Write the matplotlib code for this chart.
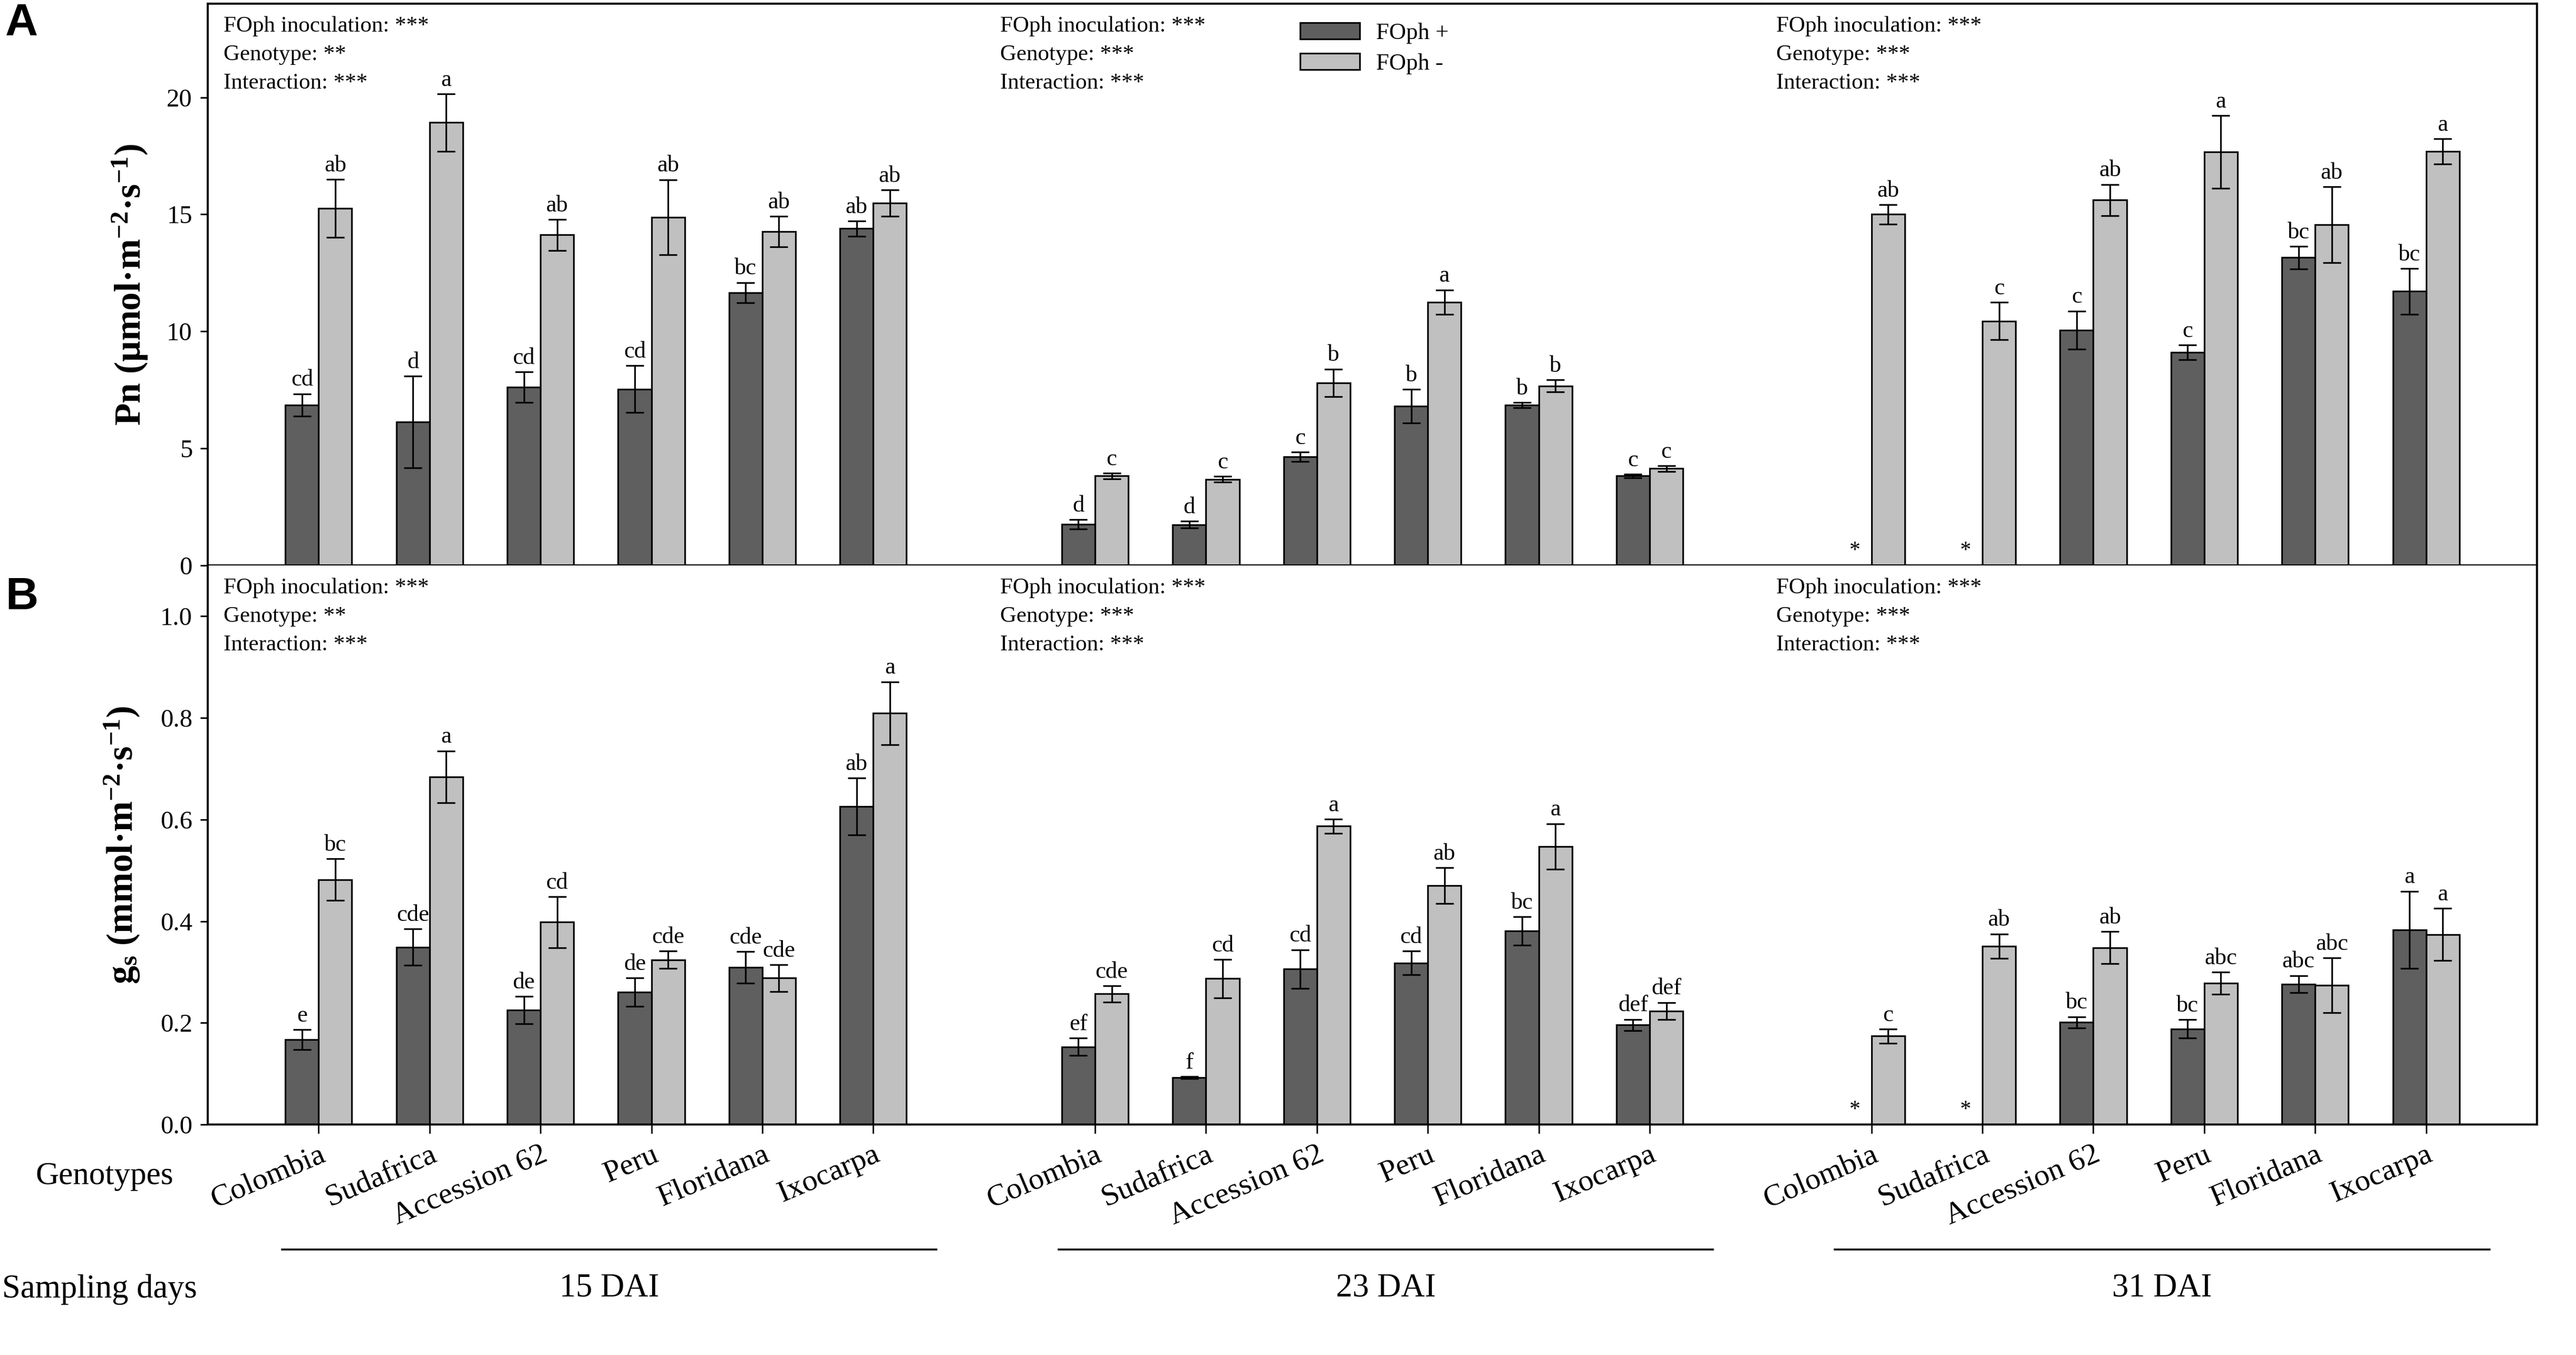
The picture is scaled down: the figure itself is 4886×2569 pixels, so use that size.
import numpy as np
import matplotlib
matplotlib.use('Agg')
import matplotlib.pyplot as plt
from matplotlib.patches import Patch

plt.rcParams['font.family'] = ['Liberation Serif', 'DejaVu Serif']
plt.rcParams['mathtext.fontset'] = 'custom'
plt.rcParams['mathtext.rm'] = 'Liberation Serif'
plt.rcParams['mathtext.bf'] = 'Liberation Serif:bold'
plt.rcParams['mathtext.it'] = 'Liberation Serif:italic'

# ---------------- data ----------------
genotypes = ['Colombia', 'Sudafrica', 'Accession 62', 'Peru', 'Floridana', 'Ixocarpa']
days = ['15 DAI', '23 DAI', '31 DAI']
series_names = ['FOph +', 'FOph -']

# Pn (umol m-2 s-1), one row per sampling day
pn_plus = [[6.85, 6.12, 7.62, 7.53, 11.66, 14.39],
           [1.76, 1.74, 4.64, 6.80, 6.85, 3.82],
           [0.0, 0.0, 10.06, 9.10, 13.15, 11.71]]
pn_plus_err = [[0.48, 1.96, 0.65, 1.00, 0.43, 0.32],
               [0.20, 0.15, 0.21, 0.72, 0.11, 0.08],
               [0.0, 0.0, 0.81, 0.31, 0.48, 0.98]]
pn_minus = [[15.25, 18.92, 14.12, 14.88, 14.26, 15.48],
            [3.82, 3.68, 7.80, 11.25, 7.67, 4.14],
            [15.00, 10.44, 15.61, 17.67, 14.55, 17.69]]
pn_minus_err = [[1.24, 1.23, 0.66, 1.60, 0.65, 0.56],
                [0.12, 0.13, 0.59, 0.52, 0.26, 0.12],
                [0.41, 0.80, 0.67, 1.55, 1.62, 0.53]]
pn_plus_lab = [['cd', 'd', 'cd', 'cd', 'bc', 'ab'],
               ['d', 'd', 'c', 'b', 'b', 'c'],
               ['*', '*', 'c', 'c', 'bc', 'bc']]
pn_minus_lab = [['ab', 'a', 'ab', 'ab', 'ab', 'ab'],
                ['c', 'c', 'b', 'a', 'b', 'c'],
                ['ab', 'c', 'ab', 'a', 'ab', 'a']]

# gs (mmol m-2 s-1)
gs_plus = [[0.167, 0.349, 0.225, 0.260, 0.309, 0.626],
           [0.153, 0.092, 0.306, 0.318, 0.381, 0.196],
           [0.0, 0.0, 0.201, 0.188, 0.276, 0.383]]
gs_plus_err = [[0.020, 0.036, 0.027, 0.028, 0.031, 0.056],
               [0.017, 0.002, 0.038, 0.023, 0.028, 0.011],
               [0.0, 0.0, 0.011, 0.018, 0.017, 0.076]]
gs_minus = [[0.482, 0.684, 0.398, 0.324, 0.288, 0.809],
            [0.257, 0.287, 0.587, 0.470, 0.547, 0.223],
            [0.174, 0.351, 0.348, 0.278, 0.274, 0.374]]
gs_minus_err = [[0.041, 0.051, 0.050, 0.017, 0.026, 0.062],
                [0.016, 0.038, 0.014, 0.035, 0.045, 0.017],
                [0.014, 0.024, 0.032, 0.022, 0.054, 0.051]]
gs_plus_lab = [['e', 'cde', 'de', 'de', 'cde', 'ab'],
               ['ef', 'f', 'cd', 'cd', 'bc', 'def'],
               ['*', '*', 'bc', 'bc', 'abc', 'a']]
gs_minus_lab = [['bc', 'a', 'cd', 'cde', 'cde', 'a'],
                ['cde', 'cd', 'a', 'ab', 'a', 'def'],
                ['c', 'ab', 'ab', 'abc', 'abc', 'a']]

# ANOVA significance per panel/day
anova_pn = [['***', '**', '***'], ['***', '***', '***'], ['***', '***', '***']]
anova_gs = [['***', '**', '***'], ['***', '***', '***'], ['***', '***', '***']]
anova_terms = ['FOph inoculation', 'Genotype', 'Interaction']

# ---------------- style ----------------
DARK = '#5f5f5f'
LIGHT = '#c0c0c0'
LW = 2.3
W, H = 4886, 2569
fig = plt.figure(figsize=(W / 100, H / 100), dpi=100)

x_left, x_right = 394, 4812
segw = (x_right - x_left) / 3.0
row_px = {'A': (7, 1072), 'B': (1072, 2132)}
xpos = np.arange(1, 7)
bw = 0.30


def draw_bars(ax, vals, errs, labs, offset, color):
    vals = np.asarray(vals, float)
    errs = np.asarray(errs, float)
    m = vals > 0
    ax.bar(xpos[m] + offset, vals[m], bw, color=color, edgecolor='black',
           linewidth=LW, zorder=2)
    ax.errorbar(xpos[m] + offset, vals[m], yerr=errs[m], fmt='none', ecolor='black',
                elinewidth=LW, capsize=12, capthick=LW, zorder=3)
    for xi, v, e, lab in zip(xpos + offset, vals, errs, labs):
        if v > 0:
            ax.annotate(lab, (xi, v + e), xytext=(0, 11), textcoords='offset points',
                        ha='center', va='baseline', fontsize=32, zorder=4)
        else:
            ax.annotate(lab, (xi, 0), xytext=(0, 6), textcoords='offset points',
                        ha='center', va='bottom', fontsize=30, zorder=4)


panels = {
    'A': (pn_plus, pn_plus_err, pn_minus, pn_minus_err, pn_plus_lab, pn_minus_lab, anova_pn),
    'B': (gs_plus, gs_plus_err, gs_minus, gs_minus_err, gs_plus_lab, gs_minus_lab, anova_gs),
}

axes = {}
for r in ['A', 'B']:
    top, bot = row_px[r]
    P, Pe, M, Me, Pl, Ml, anova = panels[r]
    for s in range(3):
        ax = fig.add_axes([(x_left + s * segw) / W, 1 - bot / H, segw / W, (bot - top) / H])
        axes[(r, s)] = ax
        ax.set_xlim(0, 7)
        draw_bars(ax, P[s], Pe[s], Pl[s], -bw / 2, DARK)
        draw_bars(ax, M[s], Me[s], Ml[s], bw / 2, LIGHT)

        if r == 'A':
            ax.set_ylim(0, 24)
            ax.set_yticks([0, 5, 10, 15, 20])
        else:
            ax.set_ylim(0, 1.1)
            ax.set_yticks(np.arange(0, 1.01, 0.2))
            ax.set_yticklabels([f'{t:.1f}' for t in np.arange(0, 1.01, 0.2)])

        for sp in ax.spines.values():
            sp.set_linewidth(2.8)
        ax.spines['left'].set_visible(s == 0)
        ax.spines['right'].set_visible(s == 2)
        ax.spines['top'].set_visible(r == 'A')

        if s == 0:
            ax.tick_params(axis='y', direction='out', length=10, width=2.2, pad=11,
                           labelsize=35)
        else:
            ax.tick_params(axis='y', left=False, labelleft=False)

        if r == 'A':
            ax.tick_params(axis='x', bottom=False, labelbottom=False)
        else:
            ax.set_xticks(xpos)
            ax.set_xticklabels(genotypes, rotation=23, ha='right',
                               rotation_mode='anchor', fontsize=42)
            ax.tick_params(axis='x', direction='out', length=12, width=2.0, pad=10)
            # sampling-day bracket line and label
            ax.plot([0.67, 6.57], [-0.224, -0.224], transform=ax.get_xaxis_transform(),
                    color='black', lw=2.6, clip_on=False)
            ax.text(3.62, -0.293, days[s], transform=ax.get_xaxis_transform(),
                    ha='center', va='center', fontsize=45)

        # ANOVA summary text
        h_px = bot - top
        for k, (term, sig) in enumerate(zip(anova_terms, anova[s])):
            ax.text(30 / segw, 1 - (43 + 54 * k) / h_px, f'{term}: {sig}',
                    transform=ax.transAxes, ha='left', va='center', fontsize=31)

# y labels
axA = axes[('A', 0)]
axB = axes[('B', 0)]
axA.set_ylabel('Pn (μmol·m$^{\\mathbf{-2}}$·s$^{\\mathbf{-1}}$)', fontsize=50,
               fontweight='bold')
axA.yaxis.set_label_coords(-0.075, 0.5)
axB.set_ylabel('g$_{\\mathbf{s}}$ (mmol·m$^{\\mathbf{-2}}$·s$^{\\mathbf{-1}}$)',
               fontsize=50, fontweight='bold')
axB.yaxis.set_label_coords(-0.085, 0.5)

# legend in middle top segment
handles = [Patch(facecolor=DARK, edgecolor='black', linewidth=LW),
           Patch(facecolor=LIGHT, edgecolor='black', linewidth=LW)]
axes[('A', 1)].legend(handles, series_names, loc='upper left',
                      bbox_to_anchor=(0.407, 0.966), frameon=False, fontsize=32,
                      borderpad=0, borderaxespad=0, handlelength=2.55,
                      handleheight=0.7, handletextpad=0.68, labelspacing=0.4)

# panel letters
fig.text(10 / W, 1 - 67 / H, 'A', fontsize=62, fontweight='bold',
         family=['Liberation Sans', 'DejaVu Sans'], ha='left', va='baseline')
fig.text(10 / W, 1 - 1155 / H, 'B', fontsize=62, fontweight='bold',
         family=['Liberation Sans', 'DejaVu Sans'], ha='left', va='baseline')

# row labels
fig.text(67 / W, 1 - 2230 / H, 'Genotypes', fontsize=44, ha='left', va='center')
fig.text(4 / W, 1 - 2445 / H, 'Sampling days', fontsize=45, ha='left', va='center')

fig.savefig('out.png', dpi=100, facecolor='white')
